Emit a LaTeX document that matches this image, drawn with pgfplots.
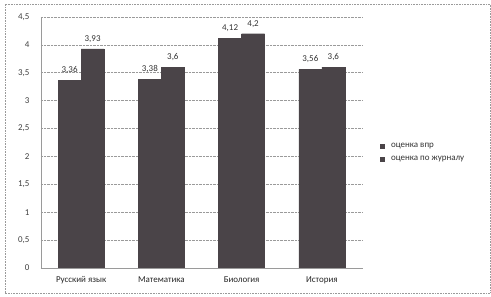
\documentclass[border=0pt]{standalone}
\usepackage{pgfplots}
\pgfplotsset{compat=1.18}
\usepackage{fontspec}
\setmainfont{Carlito}
\definecolor{barc}{HTML}{4A4448}
\definecolor{gridc}{HTML}{9A9A9A}
\begin{document}
\begin{tikzpicture}
\useasboundingbox (-41bp,-29bp) rectangle (450bp,268bp);
\draw[gridc, densely dotted, line width=0.6pt] (-36bp,-25bp) rectangle (449bp,264bp);
\begin{axis}[
  at={(0,0)}, anchor=south west,
  scale only axis, width=321bp, height=251bp,
  ybar, bar width=23bp,
  xmin=-0.5, xmax=3.5, ymin=0, ymax=4.5,
  xtick=data,
  xticklabels={Русский язык, Математика, Биология, История},
  ytick={0,0.5,...,4.5},
  /pgf/number format/use comma,
  /pgf/number format/assume math mode=true,
  yticklabel style={font=\small, text=black!75, xshift=-8bp},
  xticklabel style={font=\small, text=black!85, yshift=-2bp},
  ymajorgrids, grid style={gridc, densely dotted, line width=0.6pt},
  axis x line*=bottom, axis y line*=left,
  axis line style={gridc, line width=0.6pt},
  x axis line style={-}, y axis line style={-},
  major tick length=3pt, tick style={gridc},
  xtick style={draw=none}, ytick style={draw=none},
  nodes near coords,
  every node near coord/.append style={font=\small, text=black!80, yshift=3bp, /pgf/number format/use comma, /pgf/number format/assume math mode=true},
  legend style={at={(1.045,0.46)}, anchor=west, draw=none, fill=none, font=\small, row sep=3pt, text=black!80},
  legend cell align=left,
  legend image code/.code={\fill[barc] (-0.02cm,-0.07cm) rectangle (0.12cm,0.07cm); \path (0.3cm,0cm);},
]
\addplot[fill=barc, draw=barc, bar shift=-11.5bp] coordinates {(0,3.36) (1,3.38) (2,4.12) (3,3.56)};
\addplot[fill=barc, draw=barc, bar shift=11.5bp] coordinates {(0,3.93) (1,3.6) (2,4.2) (3,3.6)};
\legend{оценка впр, оценка по журналу}
\end{axis}
\end{tikzpicture}
\end{document}
